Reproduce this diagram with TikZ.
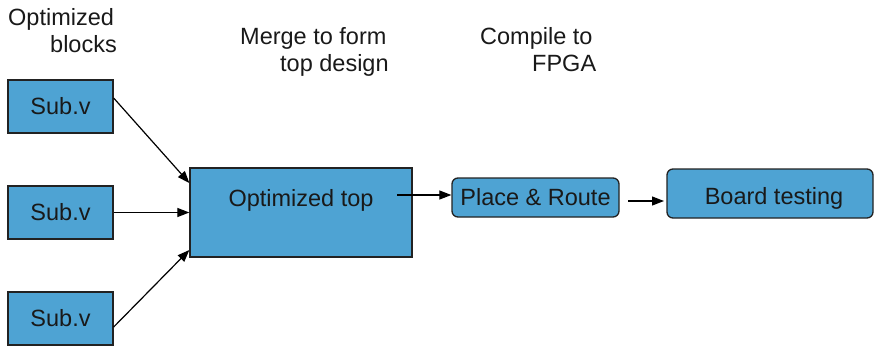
\documentclass[tikz,border=0pt]{standalone}
\usepackage{fontspec}
\setmainfont{Liberation Sans}
\usetikzlibrary{arrows.meta}
\definecolor{boxblue}{RGB}{78,163,211}
\definecolor{edge}{RGB}{34,34,34}
\begin{document}
\begin{tikzpicture}[x=1pt,y=-1pt,
  txt/.style={font=\fontsize{23.5}{27}\selectfont, text=black!90},
  blk/.style={draw=edge, line width=1.3pt, fill=boxblue, inner sep=0pt, txt},
  rblk/.style={blk, rounded corners=6pt},
  conn/.style={draw=black, line width=1.2pt, -{Triangle[length=12pt,width=9pt]}},
  lbl/.style={txt, align=left, anchor=north west, inner sep=0pt}]
\useasboundingbox (0,0) rectangle (875,346);
% labels
\node[lbl] (l1) at (8,8) {Optimized\\\hspace*{42pt}blocks};
\node[lbl] (l2) at (240,27) {Merge to form\\\hspace*{40pt}top design};
\node[lbl] (l3) at (480,27) {Compile to\\\hspace*{52pt}FPGA};
% boxes
\node[blk, minimum width=105pt, minimum height=53pt] (s1) at (60.5,106.5) {Sub.v};
\node[blk, minimum width=105pt, minimum height=53pt] (s2) at (60.5,212.5) {Sub.v};
\node[blk, minimum width=105pt, minimum height=53pt] (s3) at (60.5,318.5) {Sub.v};
\node[blk, minimum width=222pt, minimum height=89pt,
  label={[txt, anchor=base, yshift=12.5pt]center:Optimized top}] (top) at (301,212.5) {};
\node[rblk, minimum width=167pt, minimum height=39pt] (pr) at (535.5,197.5) {Place \& Route};
\node[rblk, minimum width=206pt, minimum height=49pt,
  label={[txt, anchor=base, yshift=-5pt, xshift=4pt]center:Board testing}] (bt) at (770,193.5) {};
% connectors
\draw[conn] ([yshift=8.5pt]s1.east) -- ([yshift=29.5pt]top.west);
\draw[conn] (s2.east) -- (top.west);
\draw[conn] ([yshift=-8.5pt]s3.east) -- ([yshift=-37.5pt]top.west);
\coordinate (a1) at (397,195);
\draw[conn] (a1) -- (a1 -| pr.west);
\coordinate (b1) at (628,201);
\coordinate (b2) at (664,201);
\draw[conn] (b1) -- (b2);
\end{tikzpicture}
\end{document}
